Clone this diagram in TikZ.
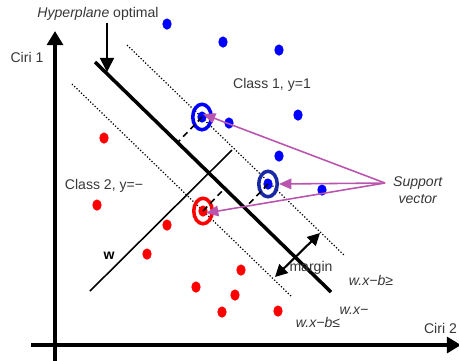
\documentclass[tikz,border=0pt]{standalone}
\usepackage{fontspec}
\setmainfont{Liberation Sans}
\usetikzlibrary{arrows.meta,shapes.geometric,calc}
\definecolor{svpurple}{RGB}{185,85,175}
\definecolor{navyring}{RGB}{25,40,165}
\definecolor{txt}{RGB}{55,55,55}
\begin{document}
\begin{tikzpicture}[x=0.02cm,y=-0.02cm,
  font=\fontsize{8pt}{9.6pt}\selectfont,
  lbl/.style={text=txt, inner sep=1pt},
  bpt/.style={ellipse, fill=blue, inner sep=0pt, minimum width=0.185cm, minimum height=0.225cm},
  rpt/.style={ellipse, fill=red, inner sep=0pt, minimum width=0.185cm, minimum height=0.225cm},
  ring/.style={ellipse, draw, line width=2pt, inner sep=0pt, minimum width=0.37cm, minimum height=0.51cm},
  axisline/.style={line width=2.3pt, -{Triangle[length=8pt,width=9pt]}},
  dotline/.style={line width=0.7pt, dash pattern=on 0.7pt off 1.1pt},
  svdash/.style={line width=0.9pt, dash pattern=on 3.5pt off 2.5pt},
  svarrow/.style={draw=svpurple, line width=0.9pt, -{Triangle[length=7pt,width=6pt]}},
  margarrow/.style={line width=1.2pt, {Triangle[length=7pt,width=7pt]}-{Triangle[length=7pt,width=7pt]}}
]
\useasboundingbox (0,0) rectangle (459,360);
\clip (0,0) rectangle (459,360);

% coordinates
\coordinate (yb) at (55,365);
\coordinate (yt) at (55,31);
\coordinate (xl) at (31,345);
\coordinate (xr) at (461,345);
\coordinate (h1) at (95,62);
\coordinate (h2) at (331,292);
\coordinate (u1) at (127,45);
\coordinate (u2) at (345,256);
\coordinate (l1) at (72,84);
\coordinate (l2) at (292,297);
\coordinate (w1) at (90,291);
\coordinate (w2) at (232,150);
\coordinate (f1) at (178,142);
\coordinate (f2) at (246,207);
\coordinate (f3) at (225,188);
\coordinate (hp) at (107,72);
\coordinate (m1) at (275,277);
\coordinate (m2) at (320,233);
\coordinate (svp) at (385,183);

% axes
\draw[axisline] (yb) -- (yt);
\draw[axisline] (xl) -- (xr);

% margin lines
\draw[dotline] (u1) -- (u2);
\draw[dotline] (l1) -- (l2);
% hyperplane
\draw[line width=2pt] (h1) -- (h2);
% w vector line
\draw[line width=0.9pt] (w1) -- (w2);

% data points
\node[bpt] (b1) at (167,24) {};
\node[bpt] (b2) at (223,42) {};
\node[bpt] (b3) at (279,50) {};
\node[bpt] (b4) at (298,115) {};
\node[bpt] (b5) at (229,123) {};
\node[bpt] (b6) at (279,156) {};
\node[bpt] (b7) at (322,190) {};
\node[rpt] (r1) at (104,138) {};
\node[rpt] (r2) at (97,205) {};
\node[rpt] (r3) at (167,225) {};
\node[rpt] (r4) at (147,254) {};
\node[rpt] (r5) at (196,287) {};
\node[rpt] (r6) at (222,312) {};
\node[rpt] (r7) at (241,270) {};
\node[rpt] (r8) at (235,295) {};
\node[rpt] (r9) at (278,311) {};

% support vectors
\node[bpt] (s1d) at (202,117) {};
\node[bpt] (s2d) at (268,184) {};
\node[rpt] (s3d) at (203,211) {};
\node[ring, draw=blue] (sv1) at (202,117) {};
\node[ring, draw=navyring] (sv2) at (268,184) {};
\node[ring, draw=red] (sv3) at (203,211) {};
\draw[svdash] (sv1.center) -- (f1);
\draw[svdash] (sv2.center) -- (f2);
\draw[svdash] (sv3.center) -- (f3);

% margin arrow
\draw[margarrow] (m1) -- (m2);

% support vector arrows
\draw[svarrow] (svp) -- ($(sv1.center)+(1,-3)$);
\draw[svarrow] (svp) -- (sv2.east);
\draw[svarrow] (svp) -- ($(sv3.center)+(3,2)$);

% labels
\node[lbl] (ciri1) at (27,57) {Ciri 1};
\node[lbl, anchor=east] (ciri2) at (459,328) {Ciri 2};
\node[lbl] (hyp) at (98,14) {\textit{Hyperplane} optimal};
\draw[line width=0.9pt, -{Triangle[length=8pt,width=8pt]}] (hyp.south -| hp) -- (hp);
\node[lbl] (c1) at (272,85) {Class 1, y=1};
\node[lbl] (c2) at (104,186) {Class 2, y=−};
\node[inner sep=1pt] (wl) at (109,256) {\textbf{w}};
\node[lbl] (mg) at (311,268) {margin};
\node[lbl] (e1) at (371,280) {\textit{w.x−b≥}};
\node[lbl] (e2) at (354,311) {\textit{w.x−}};
\node[lbl] (e3) at (318,322) {\textit{w.x−b≤}};
\node[lbl, align=center] (svl) at (418,190) {\textit{Support}\\\textit{vector}};
\end{tikzpicture}
\end{document}
